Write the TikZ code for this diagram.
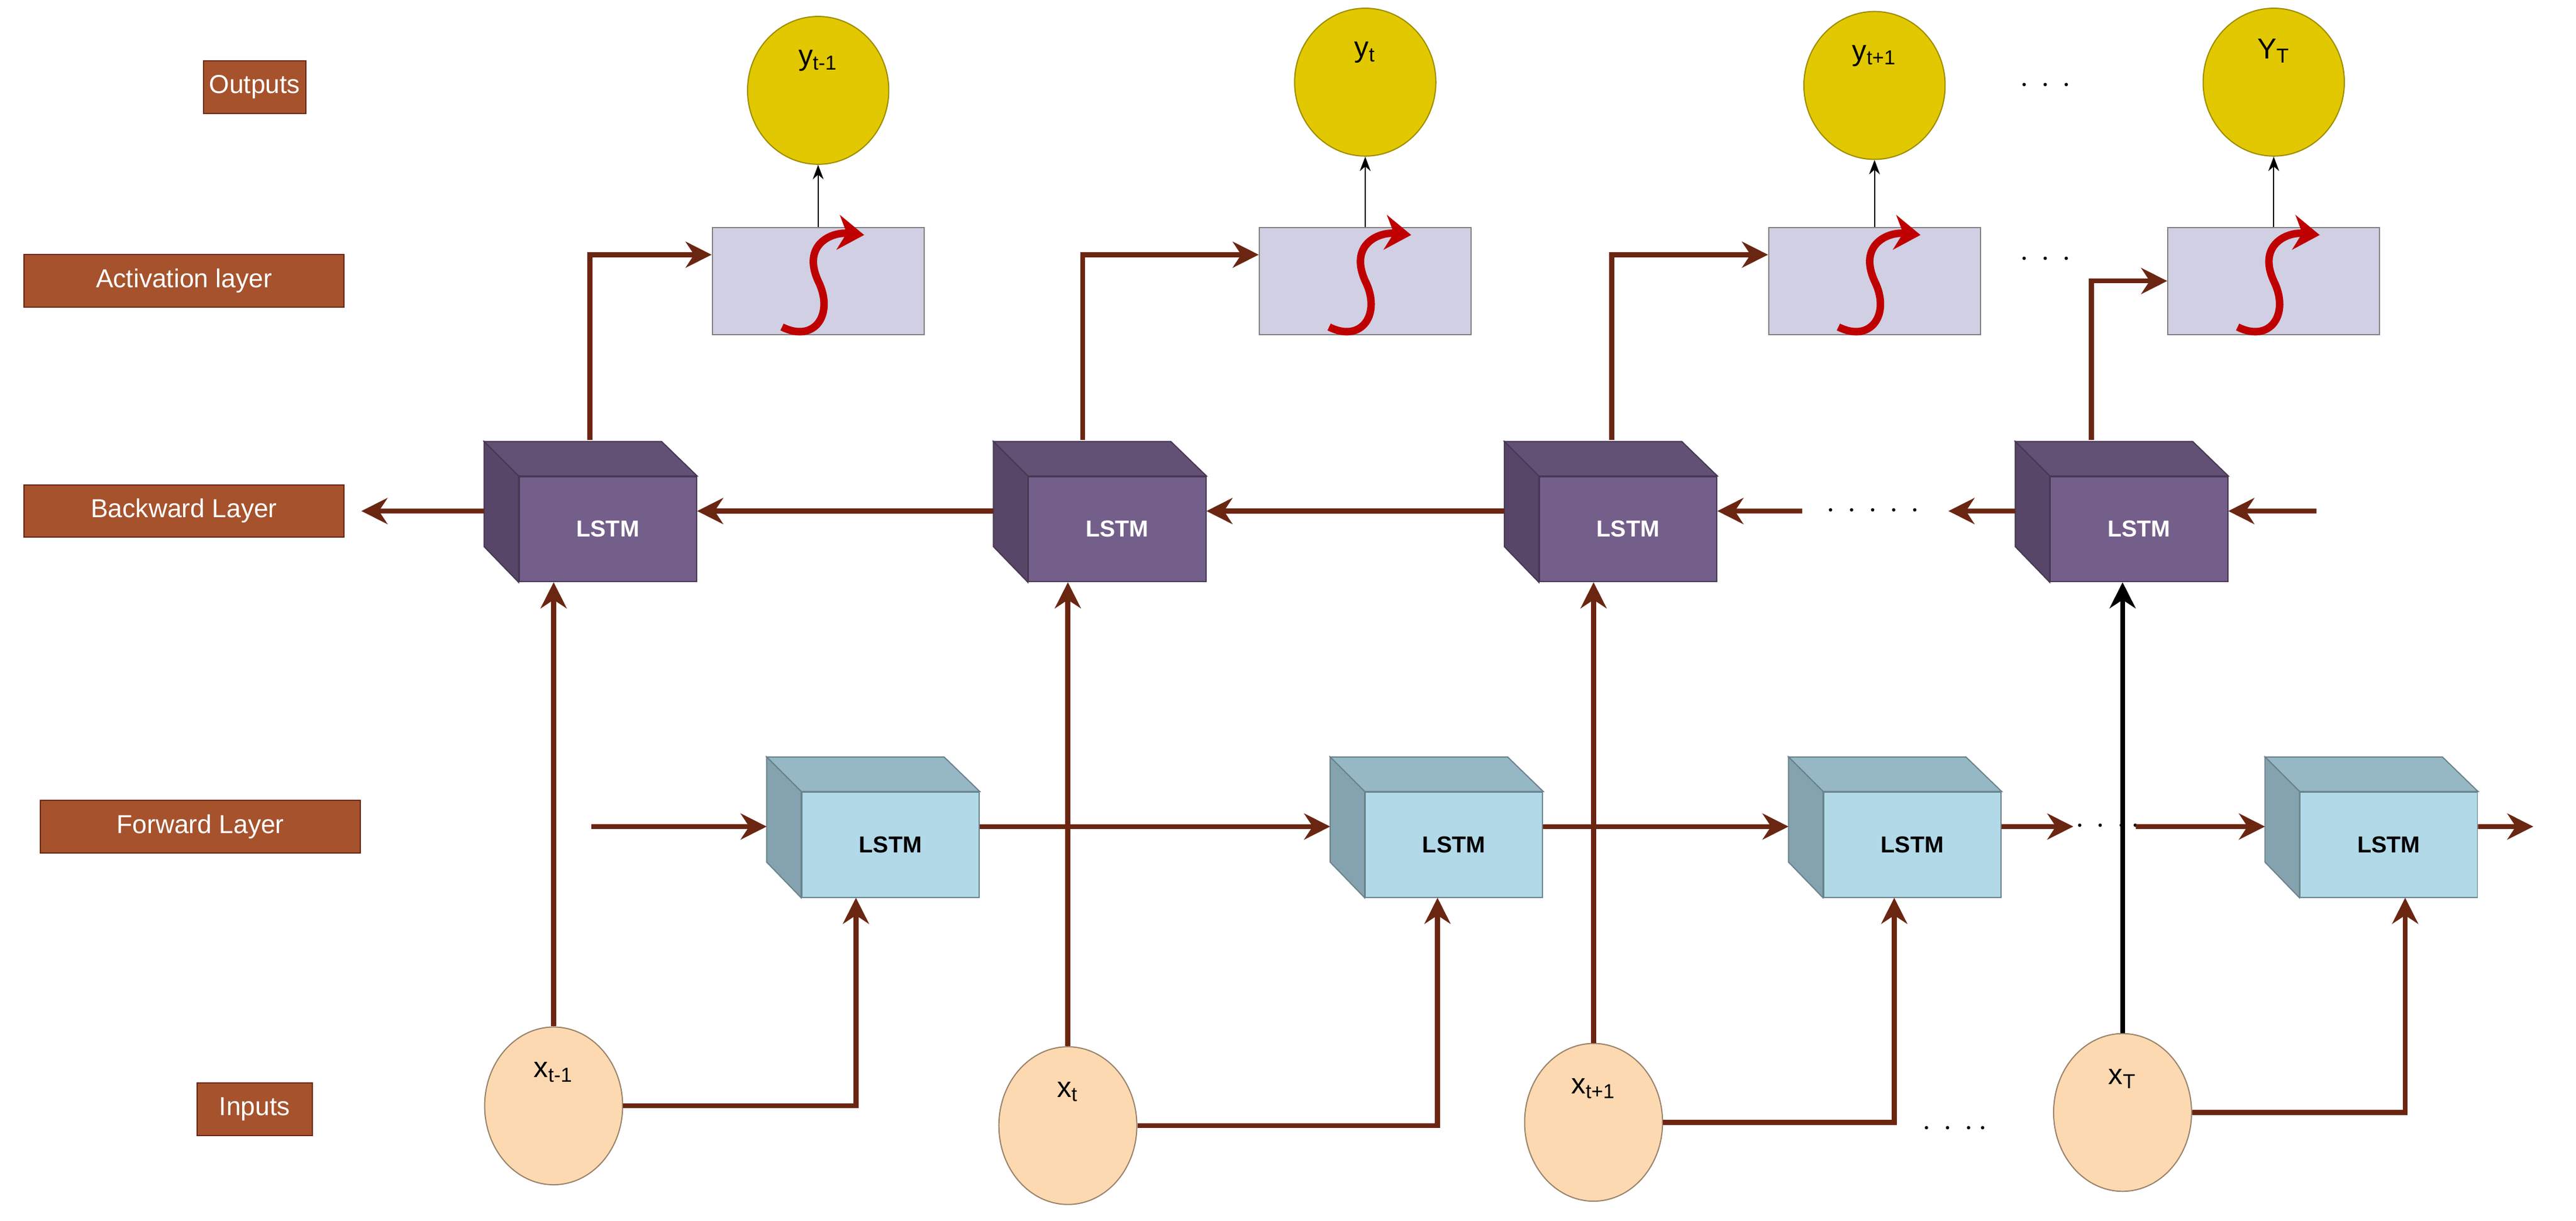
\documentclass[tikz,border=0pt]{standalone}
\usepackage{fontspec}
\setmainfont{Liberation Sans}
\usetikzlibrary{arrows.meta,calc,shapes.geometric}

\definecolor{arrowbrown}{HTML}{6B2612}
\definecolor{labfill}{HTML}{A5522D}
\definecolor{bkfill}{HTML}{745E8A}
\definecolor{fwfill}{HTML}{B1D9E8}
\definecolor{actfill}{HTML}{D1CFE3}
\definecolor{outfill}{HTML}{E1C800}
\definecolor{infill}{HTML}{FDD9B1}

\tikzset{
  lab/.style={draw=arrowbrown, fill=labfill, text=white, font=\fontsize{9}{10}\selectfont, minimum height=0.64cm, inner sep=2pt},
  conn/.style={draw=arrowbrown, line width=1.7pt, -{Stealth[length=9pt,width=9pt]}},
  face/.style={draw=#1!60!black, minimum width=2.16cm, minimum height=1.28cm, font=\fontsize{8}{9}\selectfont\bfseries, inner sep=0pt},
  act/.style={draw=black!50, fill=actfill, minimum width=2.58cm, minimum height=1.3cm},
  outc/.style={ellipse, draw=outfill!70!black, fill=outfill, minimum width=1.72cm, minimum height=1.8cm},
  inc/.style={ellipse, draw=infill!60!black, fill=infill, minimum width=1.68cm, minimum height=1.92cm},
  dots/.style={font=\bfseries\fontsize{11}{11}\selectfont}
}

% cube: name, x, y, fill, text colour
\newcommand{\lstmcube}[5]{
  \node[face=#4, fill=#4, text=#5] (#1) at (#2,#3) {LSTM};
  \filldraw[fill=#4!85!black, draw=#4!60!black] (#1.north west) -- ++(-21,-21) -- ++(108,0) -- (#1.north east) -- cycle;
  \filldraw[fill=#4!75!black, draw=#4!60!black] (#1.north west) -- ++(-21,-21) -- ++(0,64) -- (#1.south west) -- cycle;
}
% sigmoid curve inside activation box
\newcommand{\sig}[1]{
  \draw[red!75!black, line width=2.6pt, -{Stealth[length=9pt,width=12pt]}]
    ($(#1)+(-22,28)$) .. controls ($(#1)+(-2,38)$) and ($(#1)+(10,20)$) .. ($(#1)+(0,0)$)
    .. controls ($(#1)+(-10,-22)$) and ($(#1)+(8,-30)$) .. ($(#1)+(28,-28)$);
}

\begin{document}
\begin{tikzpicture}[x=0.02cm, y=-0.02cm]
\useasboundingbox (0,0) rectangle (1568,743);

% row labels
\node[lab] (lout) at (155,53)  {Outputs};
\node[lab, minimum width=3.9cm] (lact) at (112,171) {Activation layer};
\node[lab, minimum width=3.9cm] (lbk)  at (112,311) {Backward Layer};
\node[lab, minimum width=3.9cm] (lfw)  at (122,503) {Forward Layer};
\node[lab, minimum width=1.4cm] (lin)  at (155,675) {Inputs};

% outputs
\node[outc, label={[label distance=-0.8cm]north:y\textsubscript{t-1}}] (y1) at (498,55) {};
\node[outc, label={[label distance=-0.8cm]north:y\textsubscript{t}}]   (y2) at (831,50) {};
\node[outc, label={[label distance=-0.8cm]north:y\textsubscript{t+1}}] (y3) at (1141,52) {};
\node[outc, label={[label distance=-0.8cm]north:Y\textsubscript{T}}]   (y4) at (1384,50) {};
\node[dots] (dtop) at (1245,52) {$\cdot\,\cdot\,\cdot$};

% activation
\node[act] (a1) at (498,171) {};
\node[act] (a2) at (831,171) {};
\node[act] (a3) at (1141,171) {};
\node[act] (a4) at (1384,171) {};
\sig{a1} \sig{a2} \sig{a3} \sig{a4}
\node[dots] (dact) at (1245,158) {$\cdot\,\cdot\,\cdot$};

\draw[-{Stealth[length=5pt]}] (a1.north) -- (y1.south);
\draw[-{Stealth[length=5pt]}] (a2.north) -- (y2.south);
\draw[-{Stealth[length=5pt]}] (a3.north) -- (y3.south);
\draw[-{Stealth[length=5pt]}] (a4.north) -- (y4.south);

% backward layer
\lstmcube{b1}{370}{322}{bkfill}{white}
\lstmcube{b2}{680}{322}{bkfill}{white}
\lstmcube{b3}{991}{322}{bkfill}{white}
\lstmcube{b4}{1302}{322}{bkfill}{white}
\coordinate (bout) at (220,311);
\coordinate (bin) at (1410,311);
\coordinate (bd1) at (1097,311);
\coordinate (bd2) at (1186,311);
\node[dots] (bdots) at (1140,311) {$\cdot\,\cdot\,\cdot\,\cdot\,\cdot$};

\draw[conn] ([xshift=-0.42cm,yshift=0.22cm]b1.west) -- (bout);
\draw[conn] ([xshift=-0.42cm,yshift=0.22cm]b2.west) -- ([yshift=0.22cm]b1.east);
\draw[conn] ([xshift=-0.42cm,yshift=0.22cm]b3.west) -- ([yshift=0.22cm]b2.east);
\draw[conn] (bd1) -- ([yshift=0.22cm]b3.east);
\draw[conn] ([xshift=-0.42cm,yshift=0.22cm]b4.west) -- (bd2);
\draw[conn] (bin) -- ([yshift=0.22cm]b4.east);

\draw[conn] ([xshift=-0.22cm,yshift=0.44cm]b1.north) |- ([yshift=0.32cm]a1.west);
\draw[conn] ([xshift=-0.42cm,yshift=0.44cm]b2.north) |- ([yshift=0.32cm]a2.west);
\draw[conn] ([xshift=-0.2cm,yshift=0.44cm]b3.north) |- ([yshift=0.32cm]a3.west);
\draw[conn] ([xshift=-0.58cm,yshift=0.44cm]b4.north) |- (a4.west);

% forward layer
\lstmcube{f1}{542}{514}{fwfill}{black}
\lstmcube{f2}{885}{514}{fwfill}{black}
\lstmcube{f3}{1164}{514}{fwfill}{black}
\lstmcube{f4}{1454}{514}{fwfill}{black}
\coordinate (fin) at (360,503);
\coordinate (fd1) at (1262,503);
\coordinate (fd2) at (1300,503);
\coordinate (fout) at (1542,503);
\node[dots] (fdots) at (1283,503) {$\cdot\,\cdot\,\cdot\,\cdot$};

\draw[conn] (fin) -- ([xshift=-0.42cm,yshift=0.22cm]f1.west);
\draw[conn] ([yshift=0.22cm]f1.east) -- ([xshift=-0.42cm,yshift=0.22cm]f2.west);
\draw[conn] ([yshift=0.22cm]f2.east) -- ([xshift=-0.42cm,yshift=0.22cm]f3.west);
\draw[conn] ([yshift=0.22cm]f3.east) -- (fd1);
\draw[conn] (fd2) -- ([xshift=-0.42cm,yshift=0.22cm]f4.west);
\draw[conn] ([yshift=0.22cm]f4.east) -- (fout);

% inputs
\node[inc, label={[label distance=-0.8cm]north:x\textsubscript{t-1}}] (x1) at (337,673) {};
\node[inc, label={[label distance=-0.8cm]north:x\textsubscript{t}}]   (x2) at (650,685) {};
\node[inc, label={[label distance=-0.8cm]north:x\textsubscript{t+1}}] (x3) at (970,683) {};
\node[inc, label={[label distance=-0.8cm]north:x\textsubscript{T}}]   (x4) at (1292,677) {};
\node[dots] (bdots2) at (1190,687) {$\cdot\,\cdot\,\cdot\,\cdot$};

\draw[conn] (x1.north) -- (x1.north |- b1.south);
\draw[conn] (x2.north) -- (x2.north |- b2.south);
\draw[conn] (x3.north) -- (x3.north |- b3.south);
\draw[conn, draw=black] (x4.north) -- (x4.north |- b4.south);

\draw[conn] (x1.east) -| ([xshift=-0.42cm]f1.south);
\draw[conn] (x2.east) -| ([xshift=-0.2cm]f2.south);
\draw[conn] (x3.east) -| ([xshift=-0.22cm]f3.south);
\draw[conn] (x4.east) -| ([xshift=0.2cm]f4.south);

\end{tikzpicture}
\end{document}
